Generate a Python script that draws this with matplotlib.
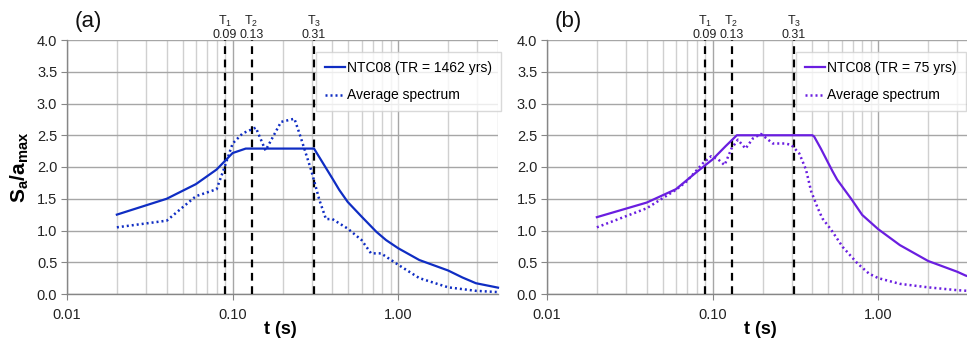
import numpy as np
import matplotlib
matplotlib.use('Agg')
import matplotlib.pyplot as plt
from matplotlib.ticker import FixedLocator, NullFormatter, FixedFormatter

plt.rcParams['font.family'] = ['Liberation Sans', 'DejaVu Sans']
plt.rcParams['mathtext.fontset'] = 'custom'
plt.rcParams['mathtext.rm'] = 'Liberation Sans'
plt.rcParams['mathtext.it'] = 'Liberation Sans:italic'
plt.rcParams['mathtext.bf'] = 'Liberation Sans:bold'

# (a) NTC08 TR = 1462 yrs
t_code_a = [0.02, 0.04, 0.06, 0.08, 0.10, 0.12, 0.31, 0.40, 0.44, 0.495, 0.60,
            0.737, 0.843, 1.00, 1.34, 2.00, 2.44, 2.94, 4.00]
sa_code_a = [1.25, 1.50, 1.73, 1.96, 2.22, 2.29, 2.29, 1.82, 1.64, 1.45, 1.22,
             0.98, 0.85, 0.72, 0.535, 0.37, 0.26, 0.17, 0.10]
t_avg_a = [0.02, 0.04, 0.06, 0.08, 0.0875, 0.10, 0.115, 0.138, 0.158, 0.196,
           0.236, 0.253, 0.298, 0.334, 0.366, 0.40, 0.495, 0.60, 0.685, 0.787,
           1.00, 1.34, 2.00, 2.94, 4.00]
sa_avg_a = [1.05, 1.155, 1.54, 1.65, 1.93, 2.37, 2.53, 2.62, 2.26, 2.71,
            2.76, 2.53, 1.95, 1.48, 1.18, 1.18, 1.03, 0.85, 0.64, 0.64,
            0.46, 0.25, 0.105, 0.05, 0.03]

# (b) NTC08 TR = 75 yrs
t_code_b = [0.02, 0.04, 0.06, 0.08, 0.10, 0.12, 0.14, 0.40, 0.41, 0.45, 0.53,
            0.565, 0.69, 0.80, 1.00, 1.35, 2.00, 3.00, 3.37, 4.00]
sa_code_b = [1.21, 1.44, 1.65, 1.92, 2.12, 2.33, 2.50, 2.50, 2.48, 2.29, 1.93,
             1.80, 1.49, 1.245, 1.02, 0.77, 0.52, 0.35, 0.29, 0.23]
t_avg_b = [0.02, 0.04, 0.06, 0.0694, 0.0875, 0.098, 0.108, 0.118, 0.13, 0.142,
           0.158, 0.175, 0.196, 0.231, 0.272, 0.298, 0.334, 0.366, 0.393, 0.43,
           0.46, 0.52, 0.61, 0.75, 0.88, 1.00, 1.35, 2.00, 3.00, 4.00]
sa_avg_b = [1.05, 1.35, 1.64, 1.77, 2.06, 2.17, 2.12, 2.03, 2.29, 2.43,
            2.29, 2.45, 2.52, 2.37, 2.37, 2.35, 2.21, 1.96, 1.62, 1.36,
            1.19, 1.01, 0.74, 0.48, 0.32, 0.25, 0.16, 0.105, 0.06, 0.04]

t_marks = [0.09, 0.13, 0.31]
t_names = ['1', '2', '3']

panels = [
    dict(tag='(a)', tc=t_code_a, sc=sa_code_a, ta=t_avg_a, sav=sa_avg_a,
         col='#0F2DC3', lab='NTC08 (TR = 1462 yrs)', left=67, legw=178),
    dict(tag='(b)', tc=t_code_b, sc=sa_code_b, ta=t_avg_b, sav=sa_avg_b,
         col='#6A1EE0', lab='NTC08 (TR = 75 yrs)', left=547, legw=159),
]

W, H = 967, 338
fig = plt.figure(figsize=(W / 100, H / 100), dpi=100)

for p in panels:
    ax = fig.add_axes([p['left'] / W, 1 - 294 / H, 431 / W, 254 / H])
    ax.set_xscale('log')
    ax.set_xlim(0.01, 4.0)
    ax.set_ylim(0, 4)

    major = [0.01, 0.1, 1.0]
    minor = [m * d for d in [0.01, 0.1, 1.0] for m in range(2, 10) if m * d <= 4.0]
    ax.xaxis.set_major_locator(FixedLocator(major))
    ax.xaxis.set_major_formatter(FixedFormatter(['0.01', '0.10', '1.00']))
    ax.xaxis.set_minor_locator(FixedLocator(minor))
    ax.xaxis.set_minor_formatter(NullFormatter())
    ax.set_yticks(np.arange(0, 4.01, 0.5))
    ax.set_yticklabels(['%.1f' % v for v in np.arange(0, 4.01, 0.5)])

    ax.grid(True, which='major', axis='both', color='#A6A6A6', lw=1)
    ax.grid(True, which='minor', axis='x', color='#D0D0D0', lw=1)
    ax.set_axisbelow(True)
    for s in ['top', 'right']:
        ax.spines[s].set_visible(False)
    for s in ['left', 'bottom']:
        ax.spines[s].set_color('#868686')
        ax.spines[s].set_linewidth(1)
    ax.tick_params(which='major', length=4, color='#868686', labelsize=10.5,
                   labelcolor='#222222')
    ax.tick_params(axis='x', which='major', pad=6)
    ax.tick_params(axis='y', which='major', pad=3)
    ax.tick_params(which='minor', length=0)

    for tm, tn in zip(t_marks, t_names):
        ax.axvline(tm, color='black', lw=1.6, ls=(0, (3.5, 2.5)), zorder=3)
        ax.text(tm, 4.03, r'$\mathregular{T_%s}$' % tn + '\n%.2f' % tm,
                ha='center', va='baseline', fontsize=9, color='#222222',
                linespacing=1.05)

    ax.plot(p['tc'], p['sc'], color=p['col'], lw=1.6, label=p['lab'], zorder=4,
            clip_on=False)
    ax.plot(p['ta'], p['sav'], color=p['col'], lw=1.8, ls=(0, (0.8, 1.2)),
            label='Average spectrum', zorder=4, clip_on=False)

    leg = ax.legend(loc='upper left', bbox_to_anchor=(0.578, 0.952),
                    fontsize=10, frameon=True, fancybox=False,
                    handlelength=1.45, handletextpad=0.15, borderpad=0.65,
                    labelspacing=0.95, borderaxespad=0)
    leg.get_frame().set_edgecolor('#D0D0D0')
    leg.get_frame().set_linewidth(1)
    leg.set_zorder(5)

    fig.text((p['left'] + 21) / W, 1 - 22 / H, p['tag'], fontsize=16,
             ha='center', va='center', color='#111111')
    fig.text((p['left'] + 213) / W, 1 - 329 / H, 't (s)', fontsize=13,
             fontweight='bold', ha='center', va='center')

fig.text(20 / W, 1 - 167 / H, r'$\mathbf{S_a/a_{max}}$', fontsize=15,
         rotation=90, ha='center', va='center')

plt.savefig('out.png', dpi=100)
